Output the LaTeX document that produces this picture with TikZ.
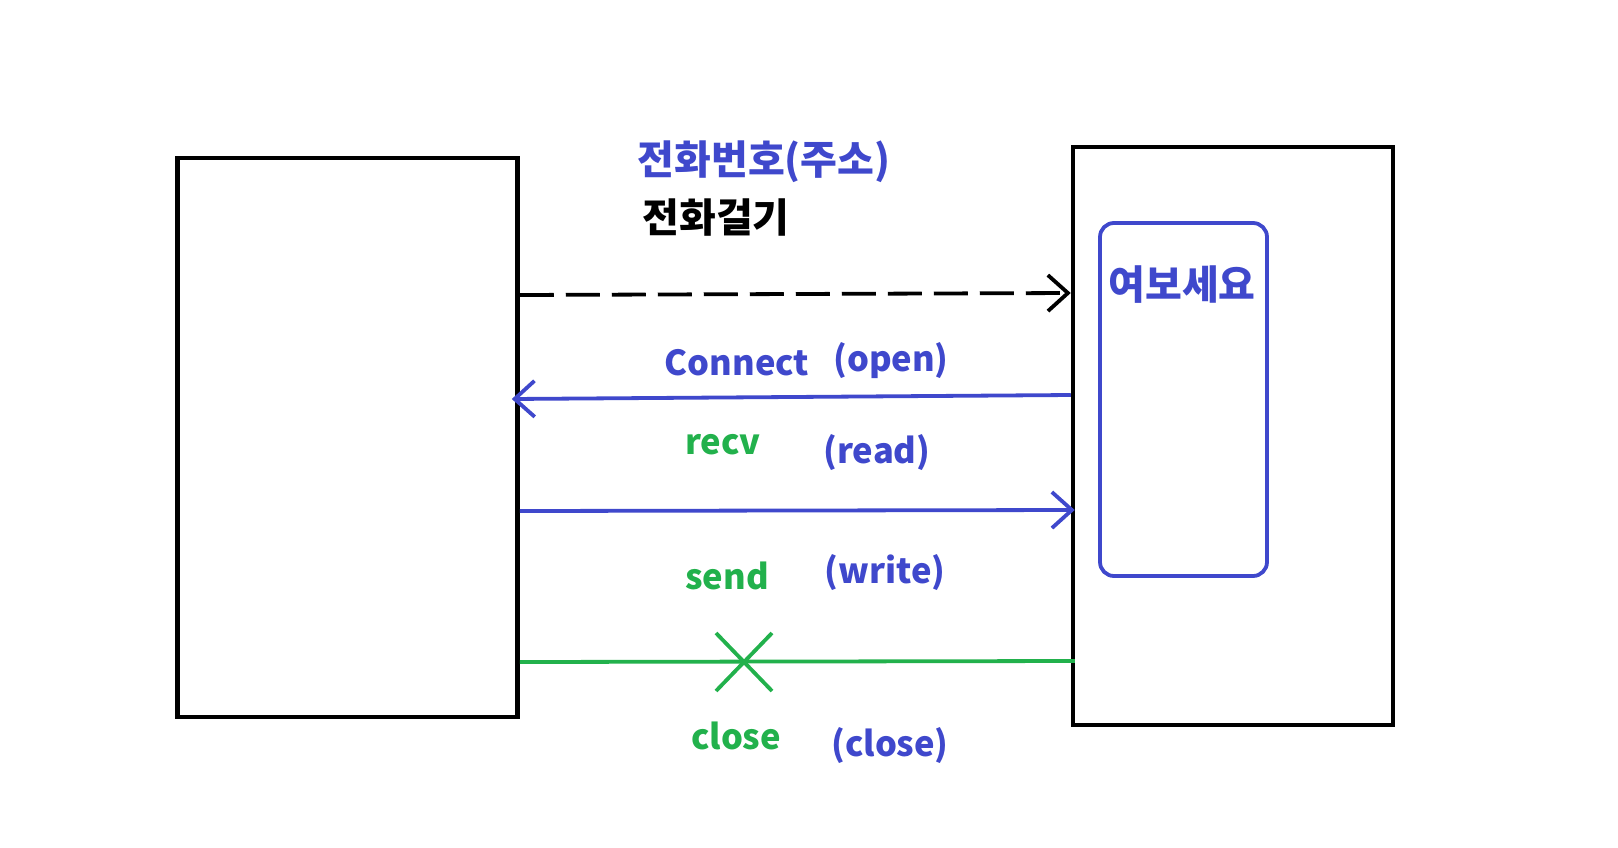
\documentclass[tikz,border=0pt]{standalone}
\usepackage{fontspec}
\setmainfont{Noto Sans CJK KR}
\usetikzlibrary{arrows.meta}
\definecolor{pblue}{HTML}{3F48CC}
\definecolor{pgreen}{HTML}{22B14C}
\tikzset{
  box/.style={draw=black, line width=4.5pt, inner sep=0pt},
  inbox/.style={draw=pblue, line width=3.8pt, rounded corners=14pt, inner sep=0pt},
  lbl/.style={inner sep=0pt, font=\fontsize{34.5}{40}\selectfont\bfseries},
  klbl/.style={inner sep=0pt, font=\fontsize{40}{46}\selectfont\bfseries},
  conn/.style={line width=3.8pt},
  barb/.style={-{Straight Barb[length=20pt,width=36pt,line width=3.8pt]}}
}
\begin{document}
\begin{tikzpicture}[x=1pt,y=-1pt]
\useasboundingbox[fill=white] (0,0) rectangle (1618,847);
\node[box, minimum width=340pt, minimum height=559pt] (client) at (347.5,437.5) {};
\node[box, minimum width=320pt, minimum height=578pt] (server) at (1233,436) {};
\node[inbox, minimum width=167pt, minimum height=353pt] (phone) at (1183.5,399.5) {};
\coordinate (d1) at (client.east |- 0,295);
\coordinate (d2) at (server.west |- 0,293);
\coordinate (c1) at (server.west |- 0,395);
\coordinate (c2) at (client.east |- 0,399);
\coordinate (r1) at (client.east |- 0,511);
\coordinate (r2) at (server.west |- 0,510);
\coordinate (s1) at (client.east |- 0,662);
\coordinate (s2) at (server.west |- 0,661);
\draw[conn, black, dash pattern=on 34pt off 12pt, barb] (d1) -- (d2);
\draw[conn, pblue, barb] (c1) -- ([xshift=-8pt]c2);
\draw[conn, pblue, barb] (r1) -- ([xshift=4pt]r2);
\draw[conn, pgreen] (s1) -- ([xshift=4pt]s2);
\coordinate (xc) at (744,662);
\draw[line width=3.8pt, pgreen] ([shift={(-28,-29)}]xc) -- ([shift={(28,29)}]xc)
  ([shift={(-28,29)}]xc) -- ([shift={(28,-29)}]xc);
\node[klbl, text=pblue] (num) at (764,162) {전화번호(주소)};
\node[klbl, text=black] (call) at (716,218) {전화걸기};
\node[klbl, text=pblue] (hello) at (1182,285) {여보세요};
\node[lbl, text=pblue] (connect) at (737,363) {Connect};
\node[lbl, text=pblue] (open) at (891,361) {(open)};
\node[lbl, text=pgreen] (recv) at (723,445) {recv};
\node[lbl, text=pblue] (read) at (877,453) {(read)};
\node[lbl, text=pgreen] (send) at (727,576) {send};
\node[lbl, text=pblue] (write) at (885,573) {(write)};
\node[lbl, text=pgreen] (closeg) at (736,736) {close};
\node[lbl, text=pblue] (closeb) at (890,746) {(close)};
\end{tikzpicture}
\end{document}
